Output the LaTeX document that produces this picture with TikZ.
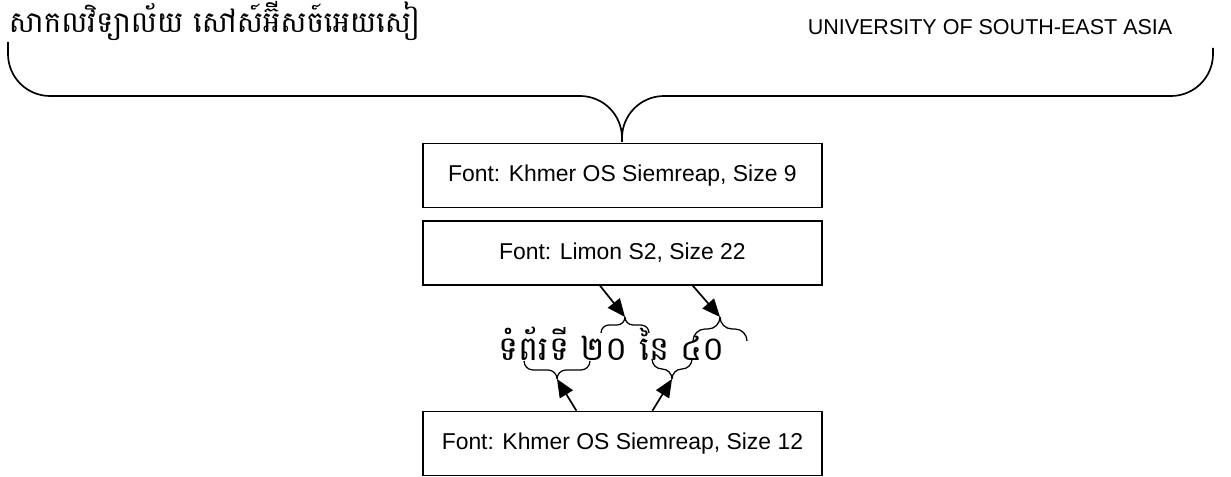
\documentclass[tikz,border=0pt]{standalone}
\usepackage{fontspec}
\setmainfont{Liberation Sans}
\newfontfamily\khmerfont[Script=Khmer]{Battambang}
\usetikzlibrary{positioning,calc,arrows.meta}
\tikzset{
  fontbox/.style={draw, line width=1.1pt, minimum width=9.975cm, minimum height=1.6cm,
    inner sep=0pt, font=\fontsize{16.3}{19}\selectfont},
  arr/.style={line width=1.2pt, -{Triangle[length=0.45cm,width=0.38cm]}},
  pics/curly/.style 2 args={code={
    \draw[line width=0.9pt, rounded corners=#2cm] (-#1,-2*#2) -- (-#1,-#2) -- (0,-#2) -- (0,0);
    \draw[line width=0.9pt, rounded corners=#2cm] (#1,-2*#2) -- (#1,-#2) -- (0,-#2) -- (0,0);
  }},
}

\begin{document}
\begin{tikzpicture}
  \useasboundingbox (0,0) rectangle (30.775,11.925);
  % titles
  \node[anchor=west, font=\khmerfont\fontsize{20.8}{24}\selectfont] (kmtitle) at (0.1,11.4) {សាកលវិទ្យាល័យ សៅស៍អ៊ីសច៍អេយសៀ};
  \node[font=\fontsize{15.3}{18}\selectfont] (entitle) at (24.75,11.25) {UNIVERSITY OF SOUTH-EAST ASIA};
  % big brace
  \coordinate (tipT) at (15.55,8.375);
  \draw[line width=1.2pt, rounded corners=1.05cm] (tipT) -- ++(0,1.15) -| (0.2,10.875);
  \draw[line width=1.2pt, rounded corners=1.05cm] (tipT) -- ++(0,1.15) -| (30.325,10.725);
  % boxes
  \node[fontbox] (f9) at (15.56,7.54) {Font: Khmer OS Siemreap, Size 9};
  \node[fontbox] (f22) [below=0.3cm of f9] {Font: Limon S2, Size 22};
  \node[fontbox] (f12) [below=3.125cm of f22] {Font: Khmer OS Siemreap, Size 12};
  % page text
  \node[font=\khmerfont\fontsize{24}{28}\selectfont] (page) at (15.3,3.33) {ទំព័រទី ២០ នៃ ៤០};
  \coordinate (tipA) at (15.625,4.0);
  \coordinate (tipB) at (18.0,4.0);
  \coordinate (tipC) at (13.925,2.45);
  \coordinate (tipD) at (16.8,2.45);
  \pic at (tipA) {curly={0.6}{0.2}};
  \pic at (tipB) {curly={0.675}{0.3}};
  \pic[yscale=-1] at (tipC) {curly={0.825}{0.225}};
  \pic[yscale=-1] at (tipD) {curly={0.5}{0.25}};
  % arrows
  \draw[arr] ([xshift=-0.56cm]f22.south) -- (tipA);
  \draw[arr] ([xshift=1.76cm]f22.south) -- (tipB);
  \draw[arr] ([xshift=-1.15cm]f12.north) -- (tipC);
  \draw[arr] ([xshift=0.75cm]f12.north) -- (tipD);
\end{tikzpicture}
\end{document}
